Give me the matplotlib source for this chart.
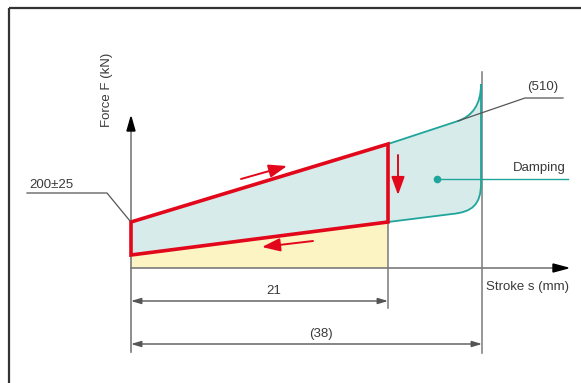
import matplotlib
matplotlib.use("Agg")
import matplotlib.pyplot as plt
from matplotlib.path import Path
from matplotlib.patches import PathPatch, Polygon
import numpy as np

plt.rcParams['font.family'] = ['Liberation Sans', 'DejaVu Sans']

# ---- schematic data (diagram units; origin at axes crossing) ----
stroke_marks = [257, 351]            # positions of 21 mm and (38) mm
stroke_labels = ["21", "(38)"]
loop_s = [0, 0, 257, 257]            # red hysteresis loop
loop_F = [13, 46, 124, 46]
preload_label = "200±25"
peak_label = "(510)"
damping_label = "Damping"
# teal envelope (damping region) key points
env_top_s = [257, 327]
env_top_F = [124, 147]
env_curve_up_s = [327, 341, 350, 350]
env_curve_up_F = [147, 152, 163, 184]
env_curve_low_s = [350, 350, 341, 321]
env_curve_low_F = [85, 63, 56, 54]

RED = "#e2071b"
TEAL = "#1fa59b"
TEAL_FILL = "#d6ebea"
YELLOW = "#fcf4c2"
GRAY = "#7a7a7a"
DARK = "#3a3a3a"

fig = plt.figure(figsize=(5.81, 3.83), dpi=100)
ax = fig.add_axes([0, 0, 1, 1])
ax.set_xlim(-131, 450)
ax.set_ylim(-115, 268)
ax.axis('off')

# frame
ax.plot([-122, 450], [260, 260], color="#333333", lw=1.6, solid_capstyle='butt')
ax.plot([-122, -122], [260, -115], color="#333333", lw=1.6, solid_capstyle='butt')

# yellow area under lower branch
ax.add_patch(Polygon([(0, 0), (0, loop_F[0]), (loop_s[3], loop_F[3]), (loop_s[3], 0)],
                     closed=True, facecolor=YELLOW, edgecolor='none', zorder=1))

# teal damping region
verts = [(loop_s[0], loop_F[0]), (loop_s[1], loop_F[1]), (env_top_s[0], env_top_F[0]),
         (env_top_s[1], env_top_F[1])]
codes = [Path.MOVETO, Path.LINETO, Path.LINETO, Path.LINETO]
verts += list(zip(env_curve_up_s[1:], env_curve_up_F[1:]))
codes += [Path.CURVE4] * 3
verts += [(env_curve_low_s[0], env_curve_low_F[0])]
codes += [Path.LINETO]
verts += list(zip(env_curve_low_s[1:], env_curve_low_F[1:]))
codes += [Path.CURVE4] * 3
verts += [(loop_s[3], loop_F[3]), (loop_s[0], loop_F[0])]
codes += [Path.LINETO, Path.CLOSEPOLY]
ax.add_patch(PathPatch(Path(verts, codes), facecolor=TEAL_FILL, edgecolor='none', zorder=1))

# teal outline
v2 = [(env_top_s[0], env_top_F[0]), (env_top_s[1], env_top_F[1])] + \
     list(zip(env_curve_up_s[1:], env_curve_up_F[1:])) + \
     [(env_curve_low_s[0], env_curve_low_F[0])] + \
     list(zip(env_curve_low_s[1:], env_curve_low_F[1:])) + [(loop_s[3], loop_F[3])]
c2 = [Path.MOVETO, Path.LINETO] + [Path.CURVE4] * 3 + [Path.LINETO] + [Path.CURVE4] * 3 + [Path.LINETO]
ax.add_patch(PathPatch(Path(v2, c2), facecolor='none', edgecolor=TEAL, lw=1.3, zorder=3))

# axes
ax.plot([0, 0], [-84, 140], color=GRAY, lw=1.2, zorder=2)
ax.plot([0, 425], [0, 0], color=GRAY, lw=1.2, zorder=2)
ax.add_patch(Polygon([(-4, 137), (4, 137), (0, 151)], closed=True, color='black', zorder=4))
ax.add_patch(Polygon([(422, -4), (422, 4), (437, 0)], closed=True, color='black', zorder=4))

# vertical marker lines
ax.plot([stroke_marks[0]] * 2, [loop_F[3], -40], color=GRAY, lw=1.1, zorder=2)
ax.plot([stroke_marks[1]] * 2, [196, -85], color=GRAY, lw=1.1, zorder=2)

# red loop
ax.add_patch(Polygon(list(zip(loop_s, loop_F)), closed=True, facecolor='none',
                     edgecolor=RED, lw=2.6, joinstyle='miter', zorder=5))

# red direction arrows
for (x0, y0, x1, y1) in [(110, 89, 156, 102), (182, 27, 131, 21), (267, 113, 267, 73)]:
    ax.annotate("", xy=(x1, y1), xytext=(x0, y0),
                arrowprops=dict(arrowstyle="-|>,head_length=1.1,head_width=0.4",
                                color=RED, lw=1.4, shrinkA=0, shrinkB=0), zorder=6)

# dimension lines
dim_y = [-33, -76]
for pos, lab, y in zip(stroke_marks, stroke_labels, dim_y):
    ax.annotate("", xy=(pos, y), xytext=(0, y),
                arrowprops=dict(arrowstyle="<|-|>,head_length=0.6,head_width=0.18",
                                color="#555555", lw=1.0, shrinkA=0, shrinkB=0))
    ax.text(pos / 2 + 14, y + 10, lab, ha='center', va='center', fontsize=9.5, color=DARK)

# labels
ax.text(-24, 178, "Force F (kN)", rotation=90, ha='center', va='center', fontsize=9.5, color=DARK)
ax.text(355, -19, "Stroke s (mm)", ha='left', va='center', fontsize=9.5, color=DARK)
ax.text(-102, 83, preload_label, ha='left', va='center', fontsize=9.5, color=DARK)
ax.plot([-104, -24, -1], [75, 75, 47], color="#555555", lw=0.9, zorder=6)
ax.text(396, 181, peak_label, ha='left', va='center', fontsize=9.5, color=DARK)
ax.plot([env_top_s[1], 394, 432], [env_top_F[1], 170, 170], color="#555555", lw=0.9, zorder=6)
ax.text(382, 100, damping_label, ha='left', va='center', fontsize=9.5, color=DARK)
ax.plot([306, 437], [89, 89], color=TEAL, lw=1.0, zorder=6)
ax.plot([306], [89], 'o', color=TEAL, ms=4.5, zorder=7)

fig.savefig("out.png", dpi=100)
